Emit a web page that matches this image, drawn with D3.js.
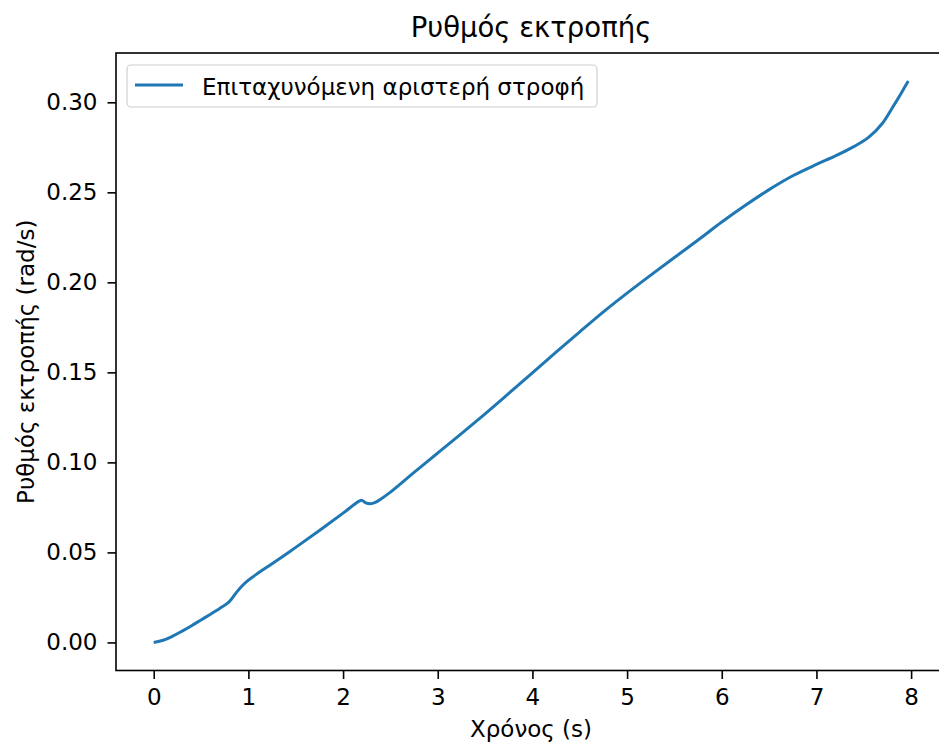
<!DOCTYPE html>
<html>
<head>
<meta charset="utf-8">
<script src="https://cdn.jsdelivr.net/npm/d3@7"></script>
<style>
  html, body { margin: 0; padding: 0; background: #fff; }
  svg { display: block; font-family: "DejaVu Sans", sans-serif; }
</style>
</head>
<body>
<svg id="chart" width="939" height="747"></svg>
<script>
// Yaw rate during an accelerating left turn
const timeS = [0, 0.1, 0.2, 0.3, 0.4, 0.5, 0.6, 0.7, 0.78, 0.82, 0.87, 0.93, 1.0, 1.1, 1.25, 1.5, 1.75, 2.0, 2.17, 2.2, 2.24, 2.29, 2.34, 2.4, 2.5, 2.75, 3.0, 3.25, 3.5, 3.75, 4.0, 4.25, 4.5, 4.75, 5.0, 5.25, 5.5, 5.75, 6.0, 6.25, 6.5, 6.75, 7.0, 7.2, 7.4, 7.55, 7.7, 7.8, 7.9, 7.97];
const yawRate = [0, 0.0012, 0.0035, 0.0063, 0.0093, 0.0125, 0.0157, 0.0190, 0.0218, 0.0240, 0.0275, 0.0312, 0.0346, 0.0384, 0.0437, 0.0528, 0.0622, 0.0718, 0.0785, 0.0789, 0.0775, 0.0770, 0.0778, 0.0797, 0.0835, 0.0945, 0.1052, 0.1160, 0.1270, 0.1383, 0.1497, 0.1612, 0.1725, 0.1836, 0.1940, 0.2040, 0.2138, 0.2235, 0.2335, 0.2428, 0.2515, 0.2592, 0.2655, 0.2702, 0.2755, 0.2805, 0.2885, 0.2968, 0.3055, 0.3118];
const xTicks = [0, 1, 2, 3, 4, 5, 6, 7, 8];
const yTicks = [0.00, 0.05, 0.10, 0.15, 0.20, 0.25, 0.30];
const seriesName = "Επιταχυνόμενη αριστερή στροφή";
const titleText = "Ρυθμός εκτροπής";
const xLabel = "Χρόνος (s)";
const yLabel = "Ρυθμός εκτροπής (rad/s)";

const data = timeS.map((t, i) => ({ t, v: yawRate[i] }));

const svg = d3.select("#chart");
const box = { left: 116, top: 53, right: 946, bottom: 670.5 };

// matplotlib-like 5% margins around the data range
const xExt = d3.extent(timeS), yExt = d3.extent(yawRate);
const xPad = (xExt[1] - xExt[0]) * 0.05, yPad = (yExt[1] - yExt[0]) * 0.05;
const x = d3.scaleLinear().domain([xExt[0] - xPad, xExt[1] + xPad]).range([box.left, box.right]);
const y = d3.scaleLinear().domain([yExt[0] - yPad, yExt[1] + yPad]).range([box.bottom, box.top]);

const labelFont = 23;
const titleFont = 27.5;
const axisStroke = 1.6;

// x axis
const xAxis = svg.append("g")
  .attr("transform", `translate(0,${box.bottom})`)
  .call(d3.axisBottom(x).tickValues(xTicks).tickFormat(d3.format("d")).tickSize(8.5).tickPadding(10));
// y axis
const yAxis = svg.append("g")
  .attr("transform", `translate(${box.left},0)`)
  .call(d3.axisLeft(y).tickValues(yTicks).tickFormat(d3.format(".2f")).tickSize(8.5).tickPadding(10));

[xAxis, yAxis].forEach(g => {
  g.select(".domain").remove();
  g.selectAll(".tick line").attr("stroke", "#000").attr("stroke-width", axisStroke);
  g.selectAll(".tick text").attr("fill", "#000").attr("font-size", labelFont)
    .attr("font-family", "DejaVu Sans, sans-serif");
});

// data line, clipped to the axes area
svg.append("clipPath").attr("id", "plotClip")
  .append("rect").attr("x", box.left).attr("y", box.top)
  .attr("width", box.right - box.left).attr("height", box.bottom - box.top);

const line = d3.line().x(d => x(d.t)).y(d => y(d.v)).curve(d3.curveCatmullRom.alpha(0.5));
svg.append("path")
  .datum(data)
  .attr("clip-path", "url(#plotClip)")
  .attr("fill", "none")
  .attr("stroke", "#1f77b4")
  .attr("stroke-width", 3)
  .attr("stroke-linejoin", "round")
  .attr("d", line);

// frame (spines)
svg.append("rect")
  .attr("x", box.left).attr("y", box.top)
  .attr("width", box.right - box.left).attr("height", box.bottom - box.top)
  .attr("fill", "none").attr("stroke", "#000").attr("stroke-width", axisStroke);

// title and axis labels
svg.append("text").attr("x", (box.left + box.right) / 2).attr("y", 37)
  .attr("text-anchor", "middle").attr("font-size", titleFont).attr("fill", "#000").text(titleText);
svg.append("text").attr("x", (box.left + box.right) / 2).attr("y", 737)
  .attr("text-anchor", "middle").attr("font-size", labelFont).attr("fill", "#000").text(xLabel);
svg.append("text")
  .attr("transform", `translate(34,${(box.top + box.bottom) / 2}) rotate(-90)`)
  .attr("text-anchor", "middle").attr("font-size", labelFont).attr("fill", "#000").text(yLabel);

// legend
const legend = svg.append("g");
legend.append("rect")
  .attr("x", 127).attr("y", 65).attr("width", 470).attr("height", 42)
  .attr("rx", 4).attr("ry", 4)
  .attr("fill", "#fff").attr("fill-opacity", 0.8)
  .attr("stroke", "#d0d0d0").attr("stroke-width", 1.2);
legend.append("line")
  .attr("x1", 135).attr("x2", 183).attr("y1", 85).attr("y2", 85)
  .attr("stroke", "#1f77b4").attr("stroke-width", 3);
legend.append("text")
  .attr("x", 202).attr("y", 95)
  .attr("font-size", labelFont).attr("fill", "#000").text(seriesName);
</script>
</body>
</html>
